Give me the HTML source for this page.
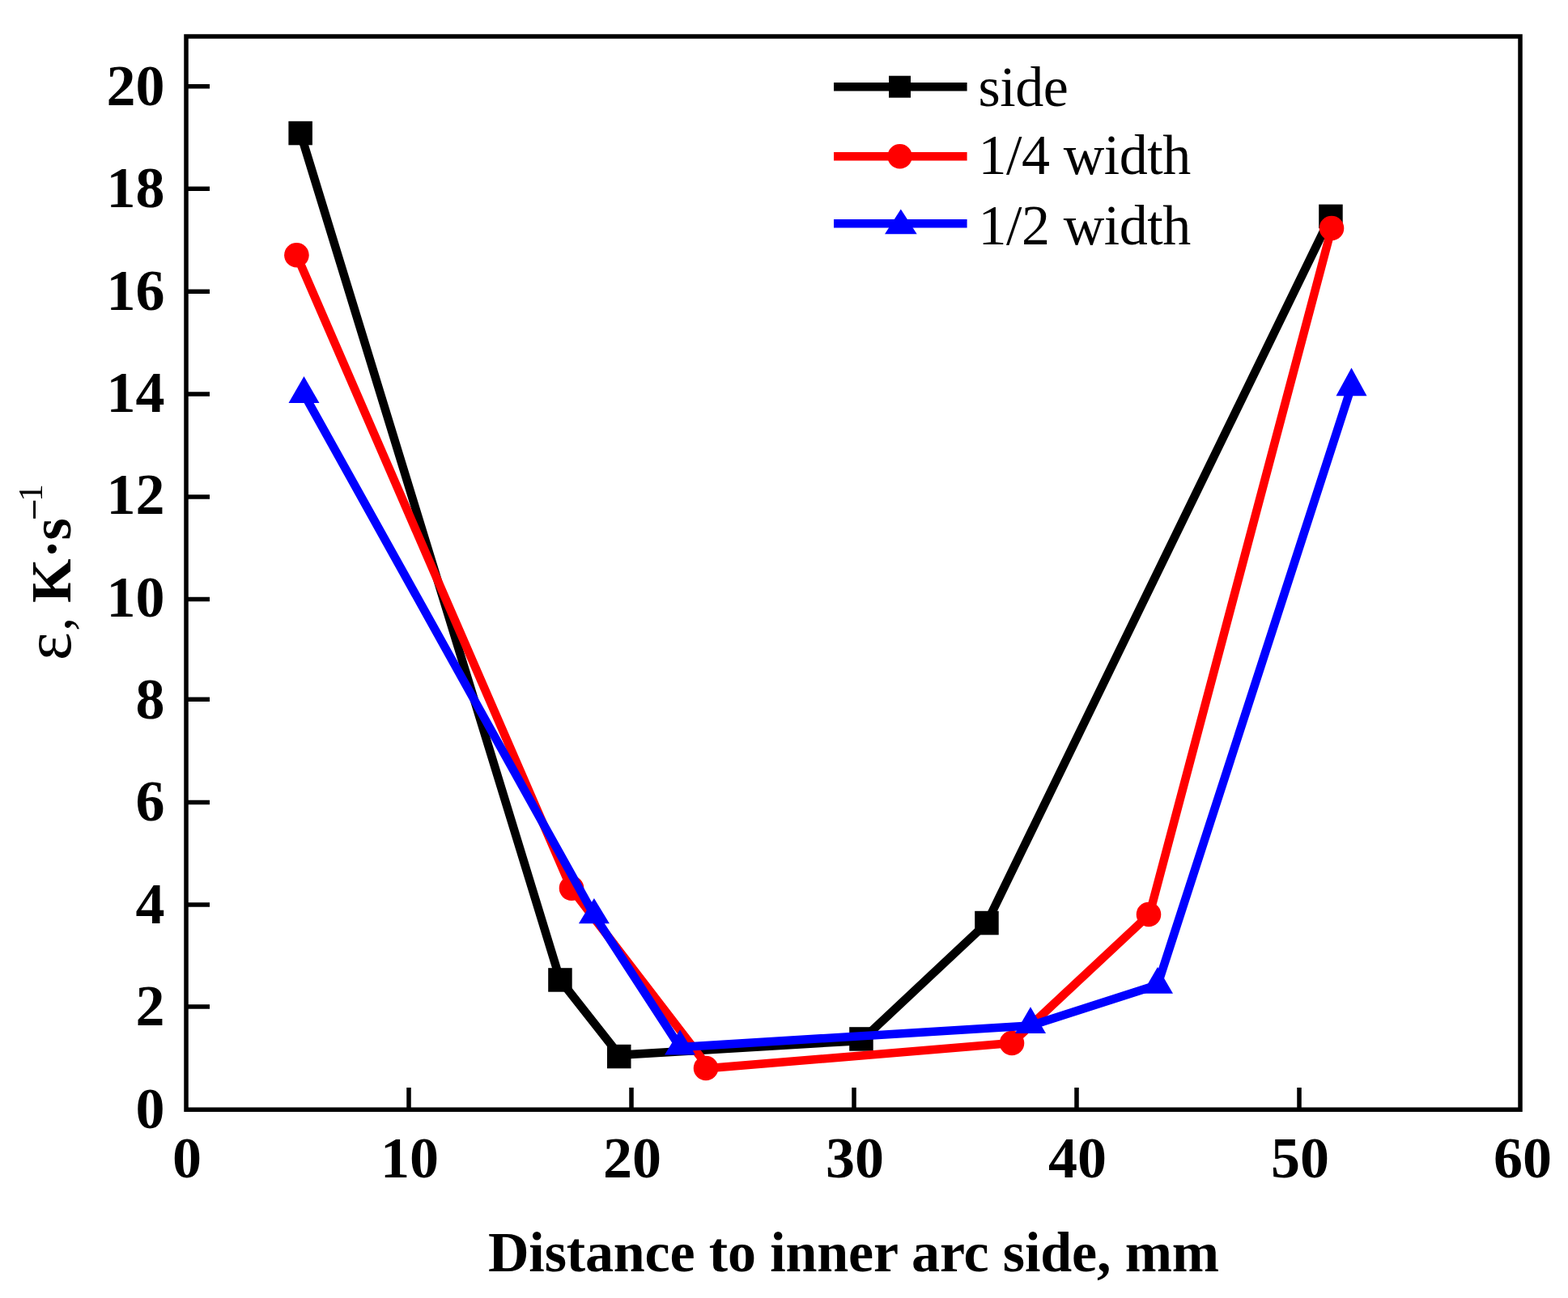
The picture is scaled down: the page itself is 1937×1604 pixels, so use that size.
<!DOCTYPE html>
<html><head><meta charset="utf-8"><title>Chart</title>
<style>html,body{margin:0;padding:0;background:#fff;overflow:hidden}svg{display:block}</style>
</head><body>
<svg width="1937" height="1604" viewBox="0 0 1937 1604"><rect x="0" y="0" width="1937" height="1604" fill="#fff"/>
<polyline points="371.2,164.6 692,1211 765,1303.8 1064,1286 1219,1140.5 1644,267.4" fill="none" stroke="#000" stroke-width="10.5" stroke-linejoin="miter" stroke-linecap="butt"/>
<rect x="356.4" y="149.8" width="29.5" height="29.5" fill="#000"/>
<rect x="677.2" y="1196.2" width="29.5" height="29.5" fill="#000"/>
<rect x="750" y="1290.8" width="29.5" height="29.5" fill="#000"/>
<rect x="1049.2" y="1269.2" width="29.5" height="29.5" fill="#000"/>
<rect x="1204.2" y="1125.8" width="29.5" height="29.5" fill="#000"/>
<rect x="1629.2" y="252.6" width="29.5" height="29.5" fill="#000"/>
<polyline points="366.4,315.2 705.5,1097.6 876,1320 1250,1289 1420,1130 1645,282" fill="none" stroke="#f00" stroke-width="10.5" stroke-linejoin="miter" stroke-linecap="butt"/>
<circle cx="366.4" cy="315.2" r="15.3" fill="#f00"/>
<circle cx="706" cy="1097.6" r="15.3" fill="#f00"/>
<circle cx="872" cy="1320" r="15.3" fill="#f00"/>
<circle cx="1250" cy="1289" r="15.3" fill="#f00"/>
<circle cx="1419" cy="1130" r="15.3" fill="#f00"/>
<circle cx="1645" cy="282" r="15.3" fill="#f00"/>
<polyline points="375.5,487 733.9,1130.9 840,1294 1273,1267.5 1430,1217 1669.5,477.7" fill="none" stroke="#00f" stroke-width="10.5" stroke-linejoin="miter" stroke-linecap="butt"/>
<polygon points="375.5,465 394.5,498 356.5,498" fill="#00f"/>
<polygon points="733.9,1110 752.9,1141.3 714.9,1141.3" fill="#00f"/>
<polygon points="840,1272.4 859,1303.5 821,1303.5" fill="#00f"/>
<polygon points="1273,1244.3 1292,1277 1254,1277" fill="#00f"/>
<polygon points="1430,1195 1449,1227.7 1411,1227.7" fill="#00f"/>
<polygon points="1669.5,454.6 1688.5,489.2 1650.5,489.2" fill="#00f"/>
<rect x="230" y="45" width="1648" height="1326.2" fill="none" stroke="#000" stroke-width="5.5" stroke-linejoin="miter"/>
<path d="M230,1244.1H259M230,1118H259M230,991.4H259M230,864.2H259M230,740.6H259M230,613.9H259M230,486.9H259M230,360.2H259M230,233.3H259M230,106.8H259M505,1371.2V1344M780,1371.2V1344M1055,1371.2V1344M1330,1371.2V1344M1605,1371.2V1344" stroke="#000" stroke-width="5.5" fill="none"/>
<g font-family="'Liberation Serif','Times New Roman',serif" font-weight="bold" font-size="72" fill="#000"><text x="203.5" y="1393.5" text-anchor="end">0</text><text x="203.5" y="1267.1" text-anchor="end">2</text><text x="203.5" y="1140.8" text-anchor="end">4</text><text x="203.5" y="1014.4" text-anchor="end">6</text><text x="203.5" y="888.1" text-anchor="end">8</text><text x="203.5" y="761.7" text-anchor="end">10</text><text x="203.5" y="635.3" text-anchor="end">12</text><text x="203.5" y="509" text-anchor="end">14</text><text x="203.5" y="382.6" text-anchor="end">16</text><text x="203.5" y="256.3" text-anchor="end">18</text><text x="203.5" y="129.9" text-anchor="end">20</text><text x="231" y="1454.5" text-anchor="middle">0</text><text x="506" y="1454.5" text-anchor="middle">10</text><text x="781" y="1454.5" text-anchor="middle">20</text><text x="1056" y="1454.5" text-anchor="middle">30</text><text x="1331" y="1454.5" text-anchor="middle">40</text><text x="1606" y="1454.5" text-anchor="middle">50</text><text x="1881" y="1454.5" text-anchor="middle">60</text></g>
<text x="1054.5" y="1570.5" text-anchor="middle" font-family="'Liberation Serif','Times New Roman',serif" font-weight="bold" font-size="70" letter-spacing="-0.14">Distance to inner arc side, mm</text>
<text transform="translate(87.3,813) rotate(-90)" font-family="'Liberation Serif','Times New Roman',serif" font-size="70"><tspan x="-3.2" y="0" font-size="83">ε</tspan><tspan x="33" y="0">,</tspan><tspan x="67.9" y="0" font-weight="bold">K</tspan><tspan x="123.05" y="0" font-weight="bold">·</tspan><tspan x="145.4" y="0" font-weight="bold">s</tspan><tspan x="172.45" y="-34.9" font-size="43" font-weight="bold">–</tspan><tspan x="193.25" y="-34.9" font-size="43">1</tspan></text>
<line x1="1030" y1="107.2" x2="1194.6" y2="107.2" stroke="#000" stroke-width="10.5"/>
<rect x="1098" y="93.7" width="27" height="27" fill="#000"/>
<text x="1208.5" y="130.7" font-family="'Liberation Serif','Times New Roman',serif" font-size="70" letter-spacing="-0.45">side</text>
<line x1="1030" y1="193.3" x2="1194.6" y2="193.3" stroke="#f00" stroke-width="10.5"/>
<circle cx="1111.6" cy="193.3" r="15.2" fill="#f00"/>
<text x="1208.5" y="215" font-family="'Liberation Serif','Times New Roman',serif" font-size="70" letter-spacing="-0.45">1/4 width</text>
<line x1="1030" y1="276.3" x2="1194.6" y2="276.3" stroke="#00f" stroke-width="10.5"/>
<polygon points="1112.8,258.4 1132.7,289.3 1093,289.3" fill="#00f"/>
<text x="1208.5" y="301.7" font-family="'Liberation Serif','Times New Roman',serif" font-size="70" letter-spacing="-0.45">1/2 width</text></svg>
</body></html>
